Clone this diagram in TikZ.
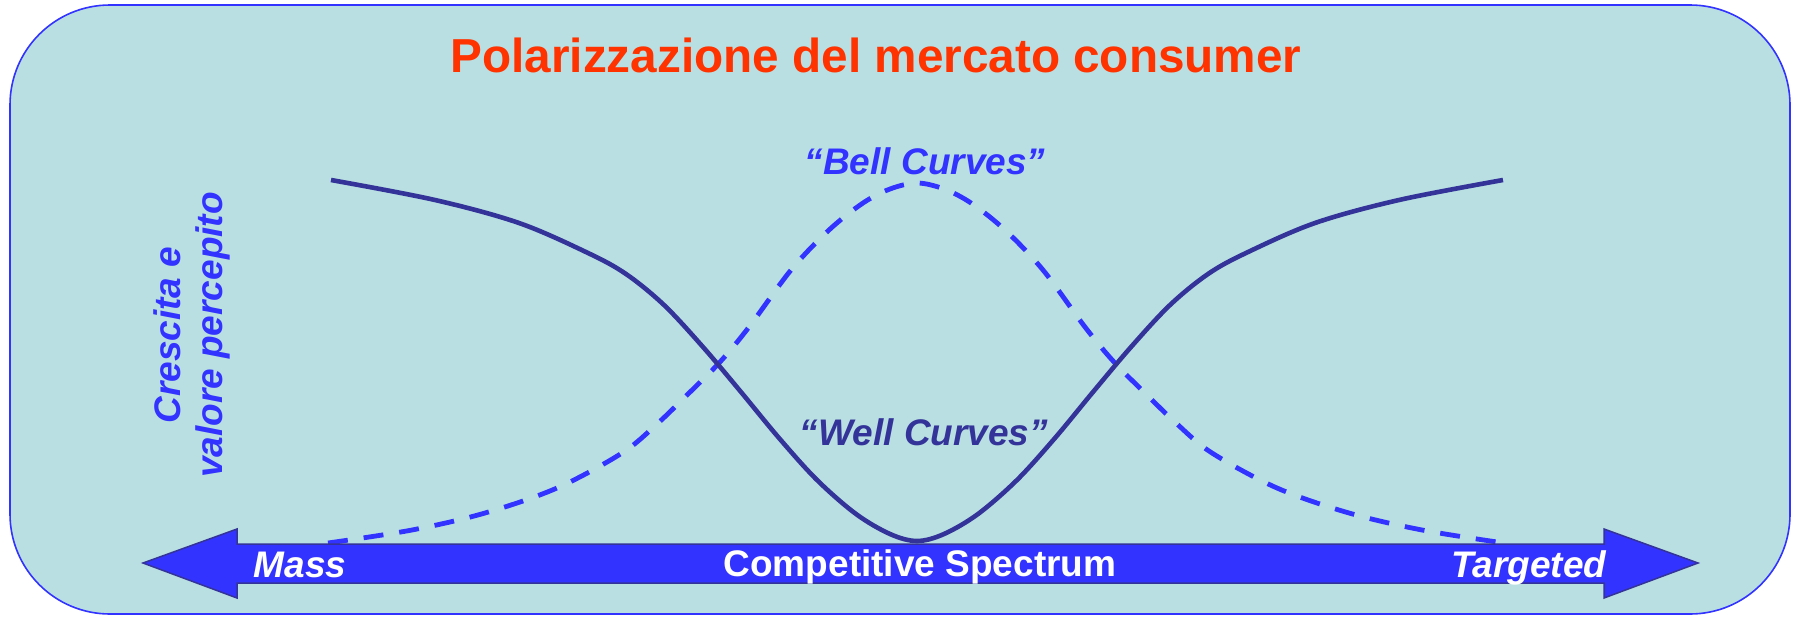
\documentclass[tikz,border=0pt]{standalone}
\usepackage{fontspec}
\setmainfont{Liberation Sans}
\definecolor{bgcyan}{RGB}{185,223,226}
\definecolor{titlered}{RGB}{255,51,0}
\definecolor{bblue}{RGB}{51,51,255}
\definecolor{navy}{RGB}{51,51,153}
\begin{document}
\begin{tikzpicture}[x=1pt,y=-1pt,
  txt/.style={inner sep=0pt,font=\fontsize{37}{42}\selectfont\bfseries\itshape},
  wellcurve/.style={draw=navy,line width=4.6pt,line cap=butt},
  bellcurve/.style={draw=bblue,line width=4.8pt,dash pattern=on 20pt off 16pt}]
\useasboundingbox (0,0) rectangle (1797,616);
% panel
\draw[fill=bgcyan,draw=bblue,line width=1.6pt,rounded corners=100pt] (10,5) rectangle (1790,614);
% title
\node[anchor=base,inner sep=0pt,text=titlered,font=\fontsize{47.7}{56}\selectfont\bfseries] (title) at (876,72) {Polarizzazione del mercato consumer};
% bell curve (dashed)
\draw[bellcurve] plot[smooth,tension=0.55] coordinates {(328,543) (412,530) (485,513) (557,488) (622,453) (657,424) (686,396) (720,362) (749,327) (791,270) (829,230) (863,203) (890,189) (917,183) (944,189) (971,203) (1005,230) (1043,270) (1085,327) (1114,362) (1148,396) (1177,424) (1212,453) (1277,488) (1349,513) (1422,530) (1504,543)};
% well curve (solid)
\draw[wellcurve] plot[smooth,tension=0.55] coordinates {(331,180) (435,200) (519,223) (588,253) (626,274) (664,305) (703,347) (741,392) (779,438) (817,480) (856,514) (890,534) (917,541) (944,534) (978,514) (1017,480) (1055,438) (1093,392) (1131,347) (1170,305) (1208,274) (1246,253) (1315,223) (1399,200) (1503,180)};
% labels
\node[txt,anchor=base,text=bblue] (bell) at (925,174) {“Bell Curves”};
\node[txt,anchor=base,text=navy] (well) at (924,445) {“Well Curves”};
\node[txt,text=bblue,rotate=90,align=center] (ylab) at (192,335) {Crescita e\\valore percepito};
% double block arrow
\draw[fill=bblue,draw=navy,line width=1.5pt,line join=miter] (143,563) -- (237,529) -- (237,544) -- (1604,544) -- (1604,529) -- (1698,563) -- (1604,598) -- (1604,583) -- (237,583) -- (237,598) -- cycle;
\node[txt,anchor=base,text=white] (mass) at (300,577) {Mass};
\node[txt,anchor=base,text=white] (targ) at (1529,577) {Targeted};
\node[txt,anchor=base,text=white,font=\fontsize{37}{42}\selectfont\bfseries] (spec) at (920,576) {Competitive Spectrum};
\end{tikzpicture}
\end{document}
